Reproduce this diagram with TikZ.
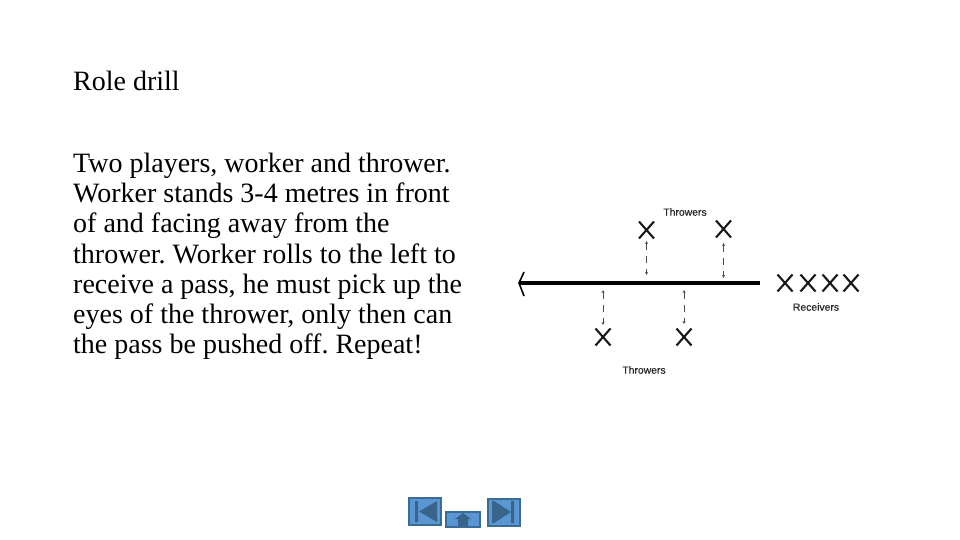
\documentclass[tikz,border=0pt]{standalone}
\usepackage{fontspec}
\setmainfont{Liberation Serif}
\setsansfont[FakeBold=0.4]{Liberation Sans}
\usepackage{xcolor}
\usetikzlibrary{shapes.misc,arrows.meta}
\definecolor{btnblue}{RGB}{90,150,210}
\definecolor{btnedge}{RGB}{58,108,150}
\definecolor{btnmark}{RGB}{56,100,140}
\frenchspacing

\tikzset{
    bodytext/.style={anchor=north west,inner sep=0pt,align=left,font=\fontsize{28}{30.3}\selectfont},
    smalllabel/.style={inner sep=0pt,text=black!85,font=\sffamily\fontsize{10.4}{12}\selectfont},
    player/.style={cross out,draw=black!90,line width=2.1pt,minimum width=15pt,minimum height=17pt,inner sep=0pt,outer sep=0pt},
    runline/.style={draw=black,line width=3.6pt},
    passline/.style={draw=black!70,line width=0.7pt,dash pattern=on 7pt off 6pt,{Stealth[length=3pt,width=3pt]}-{Stealth[length=3pt,width=3pt]}},
    button/.style={draw=btnedge,line width=2pt,fill=btnblue,inner sep=0pt},
    buttonmark/.style={fill=btnmark,draw=none},
}

\begin{document}
\begin{tikzpicture}[x=1pt,y=-1pt]
    \useasboundingbox (0,0) rectangle (960,540);
    \node[bodytext] (title) at (73,70.5) {Role drill};
    \node[bodytext] (body) at (73,152.5) {Two players, worker and thrower.\\
        Worker stands 3-4 metres in front\\
        of and facing away from the\\
        thrower. Worker rolls to the left to\\
        receive a pass, he must pick up the\\
        eyes of the thrower, only then can\\
        the pass be pushed off. Repeat!};

    % run line
    \coordinate (lineend) at (760,283);
    \coordinate (linestart) at (519,283);
    \coordinate (headtop) at (524,272);
    \coordinate (headbot) at (524,296);
    \draw[runline] (lineend) -- (linestart);
    \draw[black,line width=1.6pt] (headtop) -- (linestart) -- (headbot);

    % throwers
    \node[player] (topa) at (646.5,230) {};
    \node[player] (topb) at (723.5,229) {};
    \node[player] (bota) at (603,337) {};
    \node[player] (botb) at (684,337) {};
    \node[smalllabel] (toplabel) at (685,212) {Throwers};
    \node[smalllabel] (botlabel) at (644,370) {Throwers};

    % receivers
    \foreach \n/\xx in {a/785,b/808,c/830,d/851}
        \node[player] (rec\n) at (\xx,283) {};
    \node[smalllabel] (reclabel) at (816,307) {Receivers};

    % pass lines
    \coordinate (passatop) at (646.5,241);
    \coordinate (passa) at (646.5,275);
    \coordinate (passbtop) at (723.5,243);
    \coordinate (passb) at (723.5,278);
    \coordinate (passc) at (603,290);
    \coordinate (passcbot) at (603,325);
    \coordinate (passd) at (684,290);
    \coordinate (passdbot) at (684,324);
    \draw[passline] (passatop) -- (passa);
    \draw[passline] (passbtop) -- (passb);
    \draw[passline] (passc) -- (passcbot);
    \draw[passline] (passd) -- (passdbot);

    % nav buttons
    \node[button,minimum width=32pt,minimum height=27pt] (btnprev) at (425,511.5) {};
    \node[button,minimum width=34pt,minimum height=15pt] (btnhome) at (463,519) {};
    \node[button,minimum width=32pt,minimum height=27pt] (btnnext) at (504,512.5) {};
    \fill[buttonmark] (415,501) rectangle (418,522) (419,511.5) -- (437,501) -- (437,522) -- cycle;
    \fill[buttonmark] (492,501) rectangle (494,523) (494,501) -- (511,512) -- (494,523) -- cycle (511,501) rectangle (514,523);
    \fill[buttonmark] (455,519) -- (463,513) -- (471,519) -- (468,519) -- (468,526) -- (458,526) -- (458,519) -- cycle;
\end{tikzpicture}
\end{document}
